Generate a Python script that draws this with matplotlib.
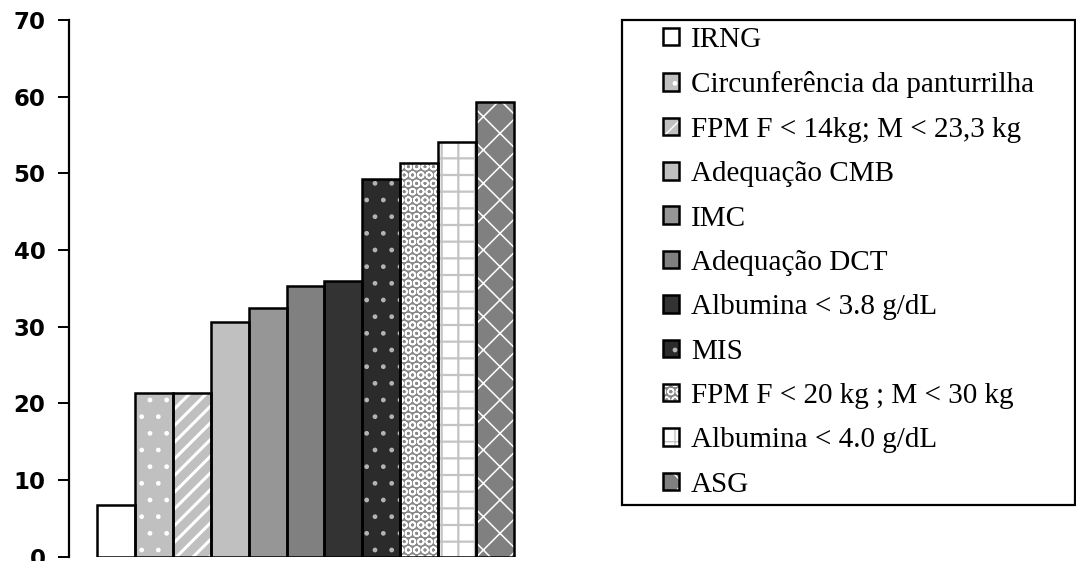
import matplotlib
matplotlib.use("Agg")
import matplotlib.pyplot as plt
from matplotlib.patches import Rectangle

# percentage of patients flagged by each nutritional criterion
categories = [
    "IRNG",
    "Circunferência da panturrilha",
    "FPM F < 14kg; M < 23,3 kg",
    "Adequação CMB",
    "IMC",
    "Adequação DCT",
    "Albumina < 3.8 g/dL",
    "MIS",
    "FPM F < 20 kg ; M < 30 kg",
    "Albumina < 4.0 g/dL",
    "ASG",
]
values = [6.7, 21.3, 21.3, 30.6, 32.4, 35.3, 36.0, 49.3, 51.3, 54.1, 59.3]
yticks = [0, 10, 20, 30, 40, 50, 60, 70]

# fill / hatch styling per bar
faces = ["#ffffff", "#c0c0c0", "#c0c0c0", "#c0c0c0", "#969696", "#808080",
         "#333333", "#2b2b2b", "#8a8a8a", "#ffffff", "#808080"]
hatch_cols = ["#ffffff", "#ffffff", "#ffffff", "#c0c0c0", "#969696", "#808080",
              "#333333", "#b4b4b4", "#ffffff", "#c4c4c4", "#ffffff"]
hatches = [None, ".", "//", None, None, None, None, ".", "OO", "+", "x"]
hatch_lw = [1, 1, 2.2, 1, 1, 1, 1, 1, 1.2, 1.6, 1.1]

W, H = 1076, 561
fig = plt.figure(figsize=(W / 100, H / 100), dpi=100)
ax = fig.add_axes([69 / W, (H - 556.7) / H, 471 / W, (556.7 - 20) / H])

x = list(range(len(values)))
fills = []
for xi, v, fc, hc, h, hl in zip(x, values, faces, hatch_cols, hatches, hatch_lw):
    with plt.rc_context({"hatch.linewidth": hl}):
        b = ax.bar(xi, v, width=1.0, color=fc, edgecolor=hc, hatch=h,
                   linewidth=0, zorder=2)
    fills.append(b[0])
edges = ax.bar(x, values, width=1.0, fill=False, edgecolor="black",
               linewidth=1.8, zorder=3)

ax.set_xlim(-0.5 - 0.74, len(values) - 0.5 + 0.69)
ax.set_ylim(0, 70)
ax.set_yticks(yticks, labels=[str(t) for t in yticks],
              fontfamily="DejaVu Sans", fontweight="bold", fontsize=16.5)
ax.set_xticks([])
for s in ["top", "right", "bottom"]:
    ax.spines[s].set_visible(False)
ax.spines["left"].set_linewidth(1.6)
ax.tick_params(axis="y", length=8, width=1.4, pad=9)

# legend box drawn as a figure patch, entries placed inside it
frame = Rectangle((622 / W, 1 - 505 / H), (1075 - 622) / W, (505 - 20) / H,
                  transform=fig.transFigure, fill=False, edgecolor="black",
                  linewidth=1.6)
fig.patches.append(frame)

handles = [(f, e) for f, e in zip(fills, edges)]
fig.legend(handles, categories, loc="upper left",
           bbox_to_anchor=(663 / W, 1 - 27 / H), frameon=False,
           borderpad=0, borderaxespad=0,
           handlelength=0.55, handleheight=0.55, handletextpad=0.4,
           labelspacing=0.63,
           prop={"family": "Liberation Serif", "size": 21})

fig.savefig("out.png", dpi=100)
